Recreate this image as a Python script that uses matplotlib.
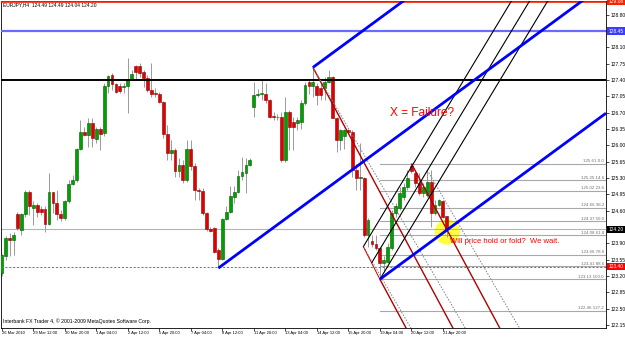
import numpy as np
import matplotlib
matplotlib.use('Agg')
import matplotlib.pyplot as plt
import matplotlib.transforms as mtransforms
from matplotlib.patches import Ellipse

plt.rcParams['font.family'] = ['Liberation Sans', 'DejaVu Sans']

# EURJPY H4 K线数据
opens = [123.26, 123.62, 124.01, 123.97, 124.53, 124.19, 124.53, 125.01, 124.65, 124.72,
         124.63, 124.63, 124.32, 124.99, 124.76, 124.53, 124.44, 124.80, 125.17, 125.26,
         125.92, 126.29, 126.22, 126.47, 126.13, 126.34, 126.26, 127.27, 127.51, 127.32,
         127.27, 127.26, 127.27, 127.42, 127.69, 127.69, 127.58, 127.44, 127.19, 127.12,
         127.10, 126.92, 126.24, 125.83, 125.89, 125.46, 125.58, 125.25, 125.92, 125.56,
         125.05, 125.03, 124.55, 124.20, 124.22, 123.76, 123.56, 124.42, 124.58, 124.90,
         125.01, 125.35, 125.40, 125.58, 126.83, 127.08, 127.11, 127.11, 126.97, 126.63,
         126.61, 126.61, 125.68, 126.72, 126.50, 126.47, 126.50, 126.90, 127.35, 127.27,
         127.27, 127.22, 127.22, 127.36, 127.47, 126.58, 126.11, 126.20, 126.33, 126.29,
         125.47, 125.29, 125.29, 124.08, 123.94, 123.89, 123.79, 123.47, 123.51, 123.79,
         124.54, 124.65, 124.90, 125.11, 125.56, 125.40, 125.19, 124.97, 124.94, 125.22,
         124.54, 124.72, 124.81, 124.49]
highs = [123.68, 124.05, 124.12, 124.15, 124.58, 124.55, 125.05, 125.05, 124.80, 124.76,
         124.69, 124.69, 125.40, 125.01, 125.05, 124.62, 124.83, 125.26, 125.37, 125.94,
         126.54, 126.40, 126.58, 126.58, 126.40, 126.40, 127.33, 127.51, 127.54, 127.33,
         127.33, 127.33, 127.87, 127.62, 127.72, 127.76, 127.62, 127.50, 127.76, 127.22,
         127.15, 126.94, 126.43, 126.12, 125.94, 125.72, 125.69, 126.12, 126.12, 125.62,
         125.08, 125.08, 124.58, 124.26, 124.26, 123.80, 124.44, 124.69, 125.12, 125.12,
         125.47, 125.76, 125.72, 125.72, 127.36, 127.20, 127.40, 127.33, 127.00, 126.72,
         126.68, 126.72, 127.04, 126.75, 126.61, 126.61, 126.97, 127.36, 127.40, 127.67,
         127.33, 127.33, 127.47, 127.61, 127.48, 126.61, 126.36, 126.36, 126.36, 126.33,
         125.61, 126.04, 125.33, 124.44, 124.08, 124.08, 123.83, 123.62, 123.90, 124.61,
         124.76, 125.11, 125.19, 125.47, 125.61, 125.44, 125.40, 125.19, 125.47, 125.47,
         124.83, 124.86, 124.83, 124.49]
lows = [123.20, 123.55, 123.62, 123.65, 124.19, 124.08, 124.47, 124.51, 124.30, 124.47,
        124.51, 124.15, 124.30, 124.55, 124.40, 124.37, 124.40, 124.76, 125.15, 125.22,
        125.90, 126.19, 125.97, 125.97, 126.04, 125.90, 126.19, 127.12, 127.19, 127.12,
        127.12, 127.12, 126.69, 127.40, 127.40, 127.47, 127.26, 127.15, 127.04, 127.04,
        126.90, 126.15, 125.69, 125.69, 125.33, 125.33, 125.19, 125.22, 125.47, 124.83,
        124.83, 124.51, 124.17, 124.15, 123.69, 123.37, 123.55, 124.40, 124.55, 124.76,
        124.97, 125.26, 124.97, 125.56, 126.61, 127.04, 126.97, 126.90, 126.58, 126.54,
        126.54, 125.65, 125.65, 125.90, 125.90, 126.33, 126.36, 126.86, 127.11, 127.04,
        126.86, 126.97, 126.97, 127.33, 126.58, 125.86, 125.90, 125.93, 126.26, 125.33,
        125.04, 125.04, 124.04, 123.83, 123.83, 123.76, 123.13, 123.29, 123.47, 123.76,
        124.47, 124.61, 124.83, 125.04, 125.40, 125.11, 124.94, 124.90, 124.90, 124.26,
        124.51, 124.69, 124.44, 124.04]
closes = [123.65, 124.01, 123.97, 124.08, 124.22, 124.53, 125.01, 124.69, 124.72, 124.58,
          124.58, 124.32, 124.99, 124.76, 124.53, 124.44, 124.80, 125.17, 125.26, 125.92,
          126.29, 126.22, 126.47, 126.15, 126.34, 126.24, 127.27, 127.49, 127.32, 127.15,
          127.17, 127.27, 127.40, 127.53, 127.58, 127.54, 127.44, 127.19, 127.10, 127.10,
          126.92, 126.24, 125.83, 125.89, 125.46, 125.58, 125.25, 125.92, 125.56, 125.05,
          125.03, 124.55, 124.20, 124.17, 123.72, 123.56, 124.42, 124.58, 124.92, 125.01,
          125.35, 125.42, 125.58, 125.69, 127.08, 127.11, 127.12, 126.97, 126.61, 126.60,
          126.60, 125.68, 126.72, 126.40, 126.40, 126.54, 126.90, 127.29, 127.27, 127.35,
          127.08, 127.08, 127.36, 127.47, 126.58, 126.11, 126.33, 126.33, 126.29, 125.47,
          125.29, 125.33, 124.08, 124.40, 123.89, 123.79, 123.47, 123.54, 123.83, 124.54,
          124.69, 124.97, 125.11, 125.29, 125.44, 125.19, 124.97, 125.11, 125.22, 124.54,
          124.72, 124.83, 124.47, 124.20]

# 横轴时间标签 (每8根K线一个)
date_labels = ['26 Mar 2010', '29 Mar 12:00', '30 Mar 20:00', '1 Apr 04:00', '2 Apr 12:00',
               '5 Apr 20:00', '7 Apr 04:00', '8 Apr 12:00', '11 Apr 20:00', '13 Apr 04:00',
               '14 Apr 12:00', '15 Apr 20:00', '19 Apr 04:00', '20 Apr 12:00', '21 Apr 20:00']
date_step = 8

# 右侧价格刻度
price_ticks = [128.80, 128.45, 128.10, 127.75, 127.40, 127.05, 126.70, 126.35, 126.00, 125.65,
               125.30, 124.95, 124.60, 124.25, 123.90, 123.55, 123.20, 122.85, 122.50, 122.15]

# 水平线
top_level = 129.08
blue_level = 128.45
black_level = 127.40
bid_level = 124.20
red_level = 123.40

# 斐波那契回撤 (高点 bar 104, 低点 bar 96)
fib_high = 125.61
fib_low = 123.13
fib_start_bar = 96
fib_ratios = [0.0, 14.6, 23.6, 38.2, 50.0, 61.8, 78.6, 88.6, 100.0, 127.2]

# 蓝色通道: 起点 (bar, price), 斜率 price/bar
blue_anchors = [(55, 123.37), (79, 127.67), (96, 123.13)]
blue_slope = 0.062

# 黑色叉线 (三条平行线起点)
black_anchors = [(91.8, 123.83), (93.9, 123.48), (96, 123.13)]
black_slope = 0.140

# 安德鲁斯叉线 (P1, P2, P3)
red_fork = [(79, 127.67), (96, 123.13), (104, 125.61)]
gray_fork = [(79, 127.67), (91.8, 123.83), (108, 125.47)]

header = 'EURJPY,H4  124.49 124.49 124.04 124.20'
copyright_text = 'Interbank FX Trader 4, \u00a9 2001-2009 MetaQuotes Software Corp.'

# ---------------------------------------------------------------
fig = plt.figure(figsize=(6.25, 3.37), dpi=100)
ax = fig.add_axes([1 / 625, 9 / 337, 605 / 625, 327 / 337])
xmin, xmax = -0.18, 153.4
ax.set_xlim(xmin, xmax)
ax.set_ylim(122.086, 129.093)

o = np.array(opens)
h = np.array(highs)
l = np.array(lows)
c = np.array(closes)
bars = np.arange(len(o))
up = c >= o

# 黄色圆
ax.add_patch(Ellipse((113.1, 124.14), 6.4, 0.54, color='#ffff40', zorder=1, lw=0))

# K线
ax.vlines(bars, l, h, color='#9a9a9a', lw=0.7, zorder=3)
bottom = np.minimum(o, c)
height = np.maximum(np.abs(c - o), 0.015)
ax.bar(bars[up], height[up], bottom=bottom[up], width=0.72, color='#00a000',
       edgecolor='#005a00', lw=0.4, zorder=4)
ax.bar(bars[~up], height[~up], bottom=bottom[~up], width=0.72, color='#e00000',
       edgecolor='#8a0000', lw=0.4, zorder=4)

# 水平线
ax.axhline(top_level, color='#ff2000', lw=1.2, zorder=5)
ax.axhline(blue_level, color='#6a6aff', lw=1.6, zorder=5)
ax.axhline(black_level, color='black', lw=1.4, zorder=5)
ax.axhline(bid_level, color='#b4b4b4', lw=0.8, zorder=2)
ax.axhline(red_level, color='#ff3030', lw=0.7, ls=(0, (2, 2)), zorder=5)


def ray(x0, y0, k, **kw):
    ax.plot([x0, xmax], [y0, y0 + k * (xmax - x0)], solid_capstyle='butt', **kw)


def pitchfork(p1, p2, p3, **kw):
    mx = (p2[0] + p3[0]) / 2
    my = (p2[1] + p3[1]) / 2
    k = (my - p1[1]) / (mx - p1[0])
    for px, py in (p1, p2, p3):
        ray(px, py, k, **kw)


# 斐波那契线
fib_tr = mtransforms.blended_transform_factory(ax.transAxes, ax.transData)
for r in fib_ratios:
    lvl = fib_high - (fib_high - fib_low) * r / 100
    ax.plot([fib_start_bar, xmax], [lvl, lvl], color='#a8a8a8', lw=0.8, zorder=2)
    ax.text(0.9965, lvl + 0.01, f'{lvl:.2f} {r:.1f}', transform=fib_tr, ha='right',
            va='bottom', fontsize=3.2, color='#707070', zorder=6)

# 叉线
pitchfork(*red_fork, color='#b00000', lw=1.0, zorder=6)
pitchfork(*gray_fork, color='#808080', lw=0.7, ls=(0, (1.5, 1.5)), zorder=6)
ax.plot([gray_fork[1][0], red_fork[1][0]], [gray_fork[1][1], red_fork[1][1]],
        color='#d00000', lw=0.7, zorder=6)
for bx, by in black_anchors:
    ray(bx, by, black_slope, color='black', lw=0.8, zorder=6)

# 蓝色通道
for bx, by in blue_anchors:
    ray(bx, by, blue_slope, color='#0000ff', lw=2.0, zorder=7)

# 文字
ax.text(98.6, 126.69, 'X = Failure?', color='#ff0000', fontsize=8.6, va='center', zorder=8)
ax.text(113.7, 123.95, 'Will price hold or fold?  We wait.', color='#ff0000',
        fontsize=5.5, va='center', zorder=8)
ax.text(0.004, 0.995, header, transform=ax.transAxes, fontsize=3.5, va='top', ha='left')
ax.text(0.004, 0.012, copyright_text, transform=ax.transAxes, fontsize=3.7,
        va='bottom', ha='left')

# 坐标轴
for s in ax.spines.values():
    s.set_linewidth(0.6)
    s.set_color('black')

ax.yaxis.tick_right()
ax.set_yticks(price_ticks)
ax.set_yticklabels(['' if p in (128.45, 124.25) else f'{p:.2f}' for p in price_ticks])
ax.tick_params(axis='y', direction='out', length=2, width=0.5, pad=1.5, labelsize=3.5)

date_pos = [i * date_step for i in range(len(date_labels))]
ax.set_xticks(date_pos)
ax.set_xticklabels(date_labels)
for lab in ax.get_xticklabels():
    lab.set_ha('left')
ax.tick_params(axis='x', direction='out', length=2, width=0.5, pad=0.3, labelsize=3.0)

# 右侧高亮价格标签
for lvl, fc in ((top_level, '#ff2000'), (blue_level, '#3c3cff'),
                (bid_level, 'black'), (red_level, '#ff0000')):
    ax.text(1.004, lvl, f'{lvl:.2f}', transform=fib_tr, ha='left', va='center',
            fontsize=3.5, color='white', clip_on=False, zorder=9,
            bbox=dict(boxstyle='square,pad=0.25', fc=fc, ec='none'))

fig.savefig('out.png', dpi=100)
